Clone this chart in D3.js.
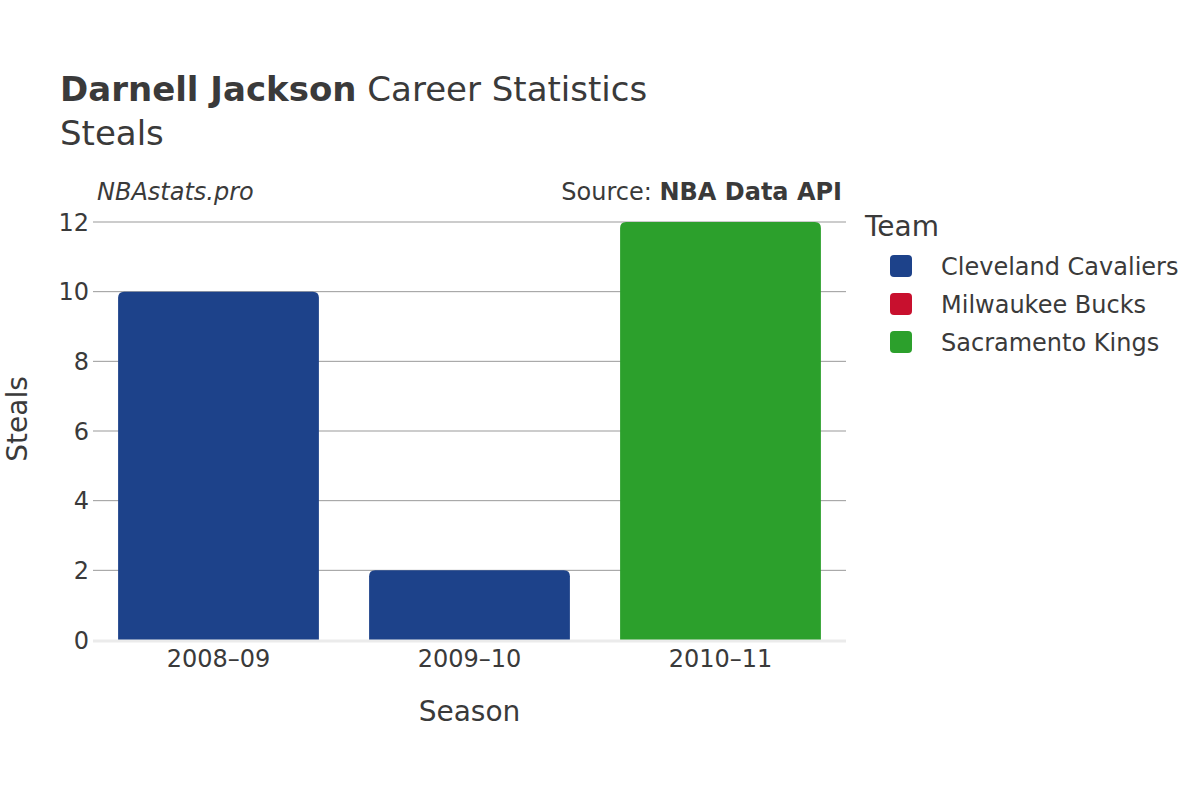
<!DOCTYPE html>
<html><head><meta charset="utf-8">
<script src="https://cdn.jsdelivr.net/npm/d3@7"></script>
<style>body{margin:0;background:#fff}svg{font-family:"DejaVu Sans",sans-serif}</style>
</head><body><svg id="c" width="1200" height="800"></svg>
<script>
const seasons = ["2008–09", "2009–10", "2010–11"];
const teams = ["Cleveland Cavaliers", "Cleveland Cavaliers", "Sacramento Kings"];
const steals = [10, 2, 12];
const legendTeams = ["Cleveland Cavaliers", "Milwaukee Bucks", "Sacramento Kings"];
const teamColors = ["#1d428a", "#c8102e", "#2ca02c"];
const yTicks = [0, 2, 4, 6, 8, 10, 12];

const svg = d3.select("#c");
const m = {l: 93, r: 846, t: 222, b: 640};
const x = d3.scaleBand().domain(seasons).range([m.l, m.r]).paddingInner(0.2).paddingOuter(0.1);
const y = d3.scaleLinear().domain([0, 12]).range([m.b, m.t]);
const color = d3.scaleOrdinal().domain(legendTeams).range(teamColors);
const txt = "#3a3a3a";

// grid
svg.append("g").selectAll("line").data(yTicks.filter(d => d > 0)).join("line")
  .attr("x1", m.l).attr("x2", m.r).attr("y1", d => y(d)).attr("y2", d => y(d))
  .attr("stroke", "#999").attr("stroke-width", 1);

// y tick labels
svg.append("g").selectAll("text").data(yTicks).join("text")
  .attr("x", 89).attr("y", d => y(d)).attr("dy", "0.36em").attr("text-anchor", "end")
  .attr("font-size", 24).attr("fill", txt).text(d => d);

// bars
const data = seasons.map((s, i) => ({s, team: teams[i], v: steals[i]}));
const r = 6;
svg.append("g").selectAll("path").data(data).join("path")
  .attr("d", d => {
    const x0 = x(d.s), w = x.bandwidth(), y0 = y(d.v), y1 = y(0);
    return `M${x0},${y1}V${y0 + r}Q${x0},${y0} ${x0 + r},${y0}H${x0 + w - r}Q${x0 + w},${y0} ${x0 + w},${y0 + r}V${y1}Z`;
  })
  .attr("fill", d => color(d.team));

// zero line
svg.append("line").attr("x1", m.l).attr("x2", m.r).attr("y1", y(0) + 1).attr("y2", y(0) + 1)
  .attr("stroke", "#ebebeb").attr("stroke-width", 3);

// x tick labels
svg.append("g").selectAll("text").data(seasons).join("text")
  .attr("x", d => x(d) + x.bandwidth() / 2).attr("y", 667).attr("text-anchor", "middle")
  .attr("font-size", 24).attr("fill", txt).text(d => d);

// axis titles
svg.append("text").attr("x", (m.l + m.r) / 2).attr("y", 721).attr("text-anchor", "middle")
  .attr("font-size", 28).attr("fill", txt).text("Season");
svg.append("text").attr("transform", `translate(27,419) rotate(-90)`)
  .attr("text-anchor", "middle").attr("font-size", 28).attr("fill", txt).text("Steals");

// title
const t = svg.append("text").attr("x", 60).attr("y", 101).attr("font-size", 34).attr("fill", txt);
t.append("tspan").attr("font-weight", "bold").text("Darnell Jackson");
t.append("tspan").text(" Career Statistics");
svg.append("text").attr("x", 60).attr("y", 145).attr("font-size", 34).attr("fill", txt).text("Steals");

// watermark / source
svg.append("text").attr("x", 97).attr("y", 200).attr("font-size", 24).attr("font-style", "italic")
  .attr("fill", txt).text("NBAstats.pro");
const src = svg.append("text").attr("x", 842).attr("y", 200).attr("text-anchor", "end")
  .attr("font-size", 24).attr("fill", txt);
src.append("tspan").text("Source: ");
src.append("tspan").attr("font-weight", "bold").text("NBA Data API");

// legend
svg.append("text").attr("x", 865).attr("y", 236).attr("font-size", 28).attr("fill", txt).text("Team");
const lg = svg.append("g").selectAll("g").data(legendTeams).join("g")
  .attr("transform", (d, i) => `translate(890,${266 + i * 38})`);
lg.append("rect").attr("x", 0).attr("y", -11).attr("width", 22).attr("height", 22).attr("rx", 4)
  .attr("fill", d => color(d));
lg.append("text").attr("x", 51).attr("y", 0).attr("dy", "0.36em").attr("font-size", 24)
  .attr("fill", txt).text(d => d);
</script></body></html>
